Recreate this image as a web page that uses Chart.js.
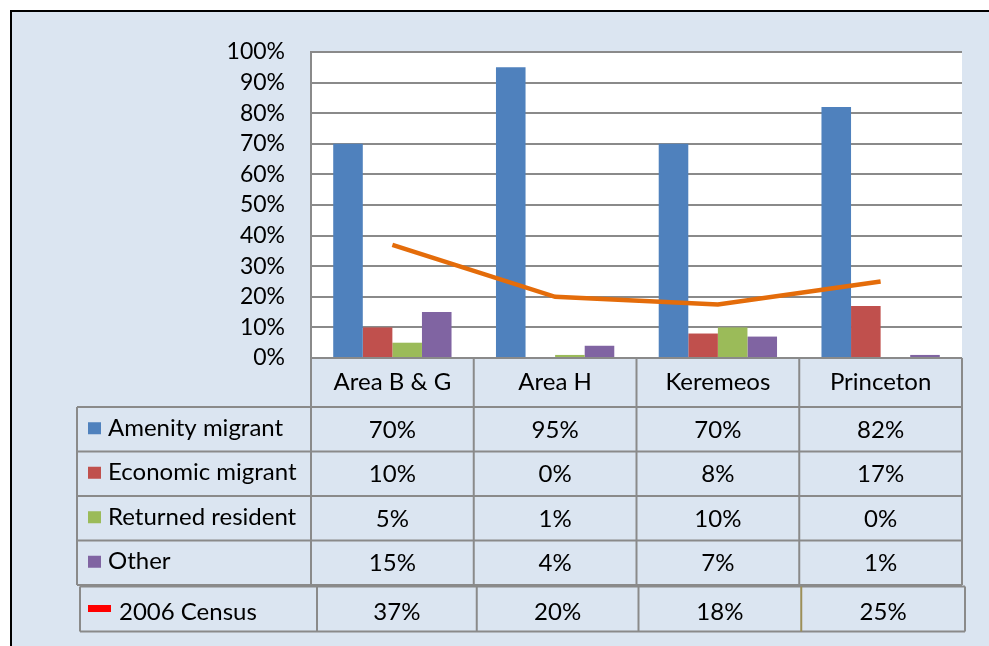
<!DOCTYPE html>
<html>
<head>
<meta charset="utf-8">
<script src="https://cdn.jsdelivr.net/npm/chart.js@4"></script>
<style>
  html, body { margin:0; padding:0; background:#fff; }
  #wrap { position:relative; width:989px; height:646px; overflow:hidden; }
  #frame { position:absolute; left:10px; top:10px; width:1000px; height:700px; background:#DBE5F1;
           border-left:2px solid #000; border-top:2px solid #000; }
  canvas { position:absolute; left:0; top:0; }
</style>
</head>
<body>
<div id="wrap">
  <div id="frame"></div>
  <canvas id="c" width="989" height="646"></canvas>
</div>
<script>
// ---- data ----
const categories = ['Area B & G', 'Area H', 'Keremeos', 'Princeton'];
const seriesNames = ['Amenity migrant', 'Economic migrant', 'Returned resident', 'Other'];
const amenity   = [70, 95, 70, 82];
const economic  = [10, 0, 8, 17];
const returned  = [5, 1, 10, 0];
const other     = [15, 4, 7, 1];
const censusName = '2006 Census';
const census    = [37, 20, 17.5, 25];
const yTickStep = 10;

const seriesValues = [amenity, economic, returned, other];
const seriesColors = ['#4F81BD', '#C0504D', '#9BBB59', '#8064A2'];
const censusColor = '#E46C0A';
const censusKeyColor = '#FF0000';
const lineGray = '#8a8a8a';
const FONT = '24px Lato';

const pct = v => Math.round(v) + '%';

const tablePlugin = {
  id: 'dataTable',
  beforeDraw(chart) {
    const { ctx, chartArea: a } = chart;
    ctx.save();
    ctx.fillStyle = '#ffffff';
    ctx.fillRect(a.left, a.top, a.right - a.left, a.bottom - a.top);
    ctx.restore();
  },
  afterDraw(chart) {
    const { ctx, chartArea: a } = chart;
    const n = categories.length;
    const w = (a.right - a.left) / n;
    const edges = [];
    for (let i = 0; i <= n; i++) edges.push(a.left + i * w);
    const centers = categories.map((_, i) => chart.scales.x.getPixelForValue(i));

    const headerTop = a.bottom;
    const headerBottom = a.bottom + 49;
    const rowH = 44.5;
    const tableLeft = 77;

    ctx.save();
    ctx.lineWidth = 2;
    ctx.strokeStyle = lineGray;
    const hline = (x1, x2, y) => { ctx.beginPath(); ctx.moveTo(x1, y); ctx.lineTo(x2, y); ctx.stroke(); };
    const vline = (x, y1, y2) => { ctx.beginPath(); ctx.moveTo(x, y1); ctx.lineTo(x, y2); ctx.stroke(); };

    // header row
    edges.forEach(e => vline(e, headerTop, headerBottom));
    ctx.font = FONT;
    ctx.fillStyle = '#000';
    ctx.textBaseline = 'middle';
    ctx.textAlign = 'center';
    categories.forEach((c, i) => ctx.fillText(c, centers[i], (headerTop + headerBottom) / 2));

    // series rows
    const rowsBottom = headerBottom + rowH * seriesNames.length;
    for (let r = 0; r <= seriesNames.length; r++) hline(tableLeft, edges[n], headerBottom + r * rowH);
    vline(tableLeft, headerBottom, rowsBottom);
    edges.forEach(e => vline(e, headerBottom, rowsBottom));

    seriesNames.forEach((name, r) => {
      const mid = headerBottom + r * rowH + rowH / 2;
      ctx.fillStyle = seriesColors[r];
      ctx.fillRect(88, mid - 7, 13, 12);
      ctx.fillStyle = '#000';
      ctx.textAlign = 'left';
      ctx.fillText(name, 108, mid - 1);
      ctx.textAlign = 'center';
      seriesValues[r].forEach((v, i) => ctx.fillText(pct(v), centers[i], mid + 1));
    });

    // census row (slightly offset box)
    const cTop = rowsBottom + 1.5, cBot = cTop + 45;
    const cEdges = [80, edges[0] + 6, edges[1] + 3, edges[2] + 2, edges[3] + 2, edges[4] + 3];
    hline(cEdges[0], cEdges[5], cTop);
    hline(cEdges[0], cEdges[5], cBot);
    cEdges.forEach((e, i) => {
      ctx.strokeStyle = (i === 4) ? '#9c8f58' : lineGray;
      vline(e, cTop, cBot);
    });
    const cMid = (cTop + cBot) / 2 + 3;
    ctx.fillStyle = censusKeyColor;
    ctx.fillRect(88, cMid - 7, 23, 7);
    ctx.fillStyle = '#000';
    ctx.textAlign = 'left';
    ctx.fillText(censusName, 119, cMid);
    ctx.textAlign = 'center';
    census.forEach((v, i) => ctx.fillText(pct(v), (cEdges[i + 1] + cEdges[i + 2]) / 2, cMid));
    ctx.restore();
  }
};

function build() {
  Chart.defaults.font.family = 'Lato';
  Chart.defaults.font.size = 23;
  Chart.defaults.color = '#000';

  const datasets = seriesNames.map((name, r) => ({
    type: 'bar',
    label: name,
    data: seriesValues[r],
    backgroundColor: seriesColors[r],
    borderWidth: 0,
    categoryPercentage: 0.727,
    barPercentage: 1,
    order: 1
  }));
  datasets.push({
    type: 'line',
    label: censusName,
    data: census,
    borderColor: censusColor,
    borderWidth: 4.5,
    pointRadius: 0,
    tension: 0,
    order: 0
  });

  new Chart(document.getElementById('c'), {
    type: 'bar',
    data: { labels: categories, datasets },
    options: {
      responsive: false,
      animation: false,
      layout: { padding: { left: 0, top: 52, right: 27, bottom: 288 } },
      plugins: { legend: { display: false }, tooltip: { enabled: false } },
      scales: {
        x: { display: false },
        y: {
          min: 0, max: 100,
          afterFit(scale) { scale.width = 311; },
          ticks: { stepSize: yTickStep, callback: v => v + '%', padding: 26, font: { size: 23 }, color: '#000' },
          grid: { color: lineGray, lineWidth: 2, drawTicks: false },
          border: { display: true, color: lineGray, width: 2 }
        }
      }
    },
    plugins: [tablePlugin]
  });
}

if (document.fonts && document.fonts.load) {
  document.fonts.load('24px Lato').then(build, build);
} else build();
</script>
</body>
</html>
